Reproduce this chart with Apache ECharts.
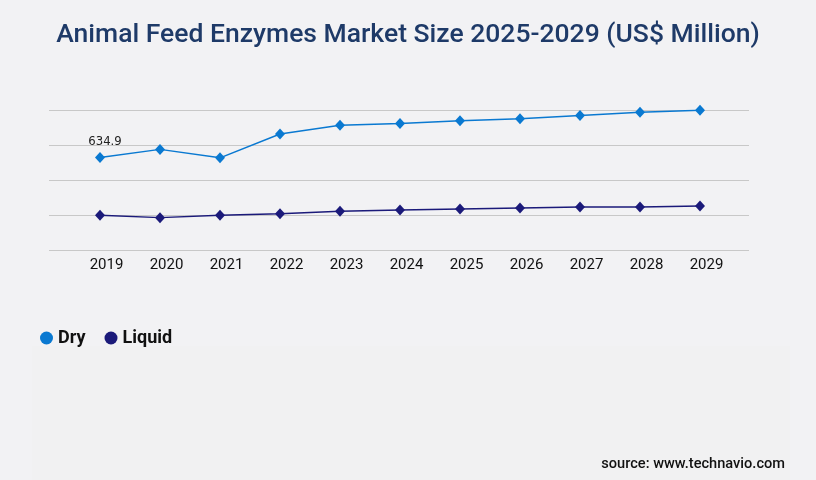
<!DOCTYPE html>
<html>
<head>
    <meta charset="utf-8">
    <title>Animal Feed Enzymes Market Size</title>
    <script src="https://cdn.jsdelivr.net/npm/echarts@6/dist/echarts.min.js"></script>
    <style>
        html, body { margin: 0; padding: 0; background: #f2f2f4; }
        #chart1 { width: 816px; height: 480px; }
    </style>
</head>
<body>
<div id="chart1"></div>
<script type="text/javascript">
    // 年份
    var years = ['2019', '2020', '2021', '2022', '2023', '2024', '2025', '2026', '2027', '2028', '2029'];
    // Dry (only 2019 is labelled)
    var dryValues = [634.9, 690, 632, 795, 855, 868, 887, 900, 923, 944, 958];
    // Liquid
    var liquidValues = [238, 222, 238, 249, 265, 274, 281, 288, 295, 295, 302];
    // only the first point carries a label
    var labelledIndex = 0;

    var dryColor = '#0a79d1';
    var liquidColor = '#1b1a7a';

    var myChart1 = echarts.init(document.getElementById('chart1'));

    var options = {
        backgroundColor: '#f2f2f4',
        animation: false,
        title: {
            text: 'Animal Feed Enzymes Market Size 2025-2029 (US$ Million)',
            left: 'center',
            top: 17,
            textStyle: {
                fontFamily: 'Roboto',
                fontSize: 26.5,
                fontWeight: 500,
                color: '#1e3a68'
            }
        },
        legend: {
            data: ['Dry', 'Liquid'],
            left: 35,
            top: 324,
            icon: 'circle',
            itemWidth: 13,
            itemHeight: 13,
            itemGap: 19,
            textStyle: {
                fontFamily: 'Roboto',
                fontSize: 18,
                fontWeight: 'bold',
                color: '#111'
            }
        },
        graphic: [
            {
                type: 'rect',
                z: -1,
                shape: { x: 32, y: 346, width: 758, height: 134 },
                style: { fill: '#f1f1f2' }
            },
            {
                type: 'text',
                right: 31,
                top: 457,
                style: {
                    text: 'source: www.technavio.com',
                    fontFamily: 'Roboto',
                    fontSize: 14.6,
                    fontWeight: 500,
                    fill: '#111'
                }
            }
        ],
        grid: [
            // gridlines only
            { left: 49, right: 67, top: 110, bottom: 230 },
            // data
            { left: 100, right: 116, top: 110, bottom: 230 }
        ],
        xAxis: [
            {
                gridIndex: 0,
                type: 'value',
                min: 0,
                max: 1,
                show: false
            },
            {
                gridIndex: 1,
                type: 'category',
                data: years,
                boundaryGap: false,
                axisLine: { show: false },
                axisTick: { show: false },
                axisLabel: {
                    fontFamily: 'Roboto',
                    fontSize: 15,
                    color: '#111',
                    margin: 8,
                    padding: [0, 0, 0, 13]
                }
            }
        ],
        yAxis: [
            {
                gridIndex: 0,
                type: 'value',
                min: 0,
                max: 960,
                interval: 240,
                axisLine: { show: false },
                axisTick: { show: false },
                axisLabel: { show: false },
                splitLine: { lineStyle: { color: '#c8c8c8', width: 1 } }
            },
            {
                gridIndex: 1,
                type: 'value',
                min: 0,
                max: 960,
                interval: 240,
                show: false,
                splitLine: { show: false }
            }
        ],
        series: [
            {
                name: 'Dry',
                type: 'line',
                xAxisIndex: 1,
                yAxisIndex: 1,
                data: dryValues,
                symbol: 'diamond',
                symbolSize: [10, 11],
                itemStyle: { color: dryColor },
                lineStyle: { color: dryColor, width: 1.5 },
                label: {
                    show: true,
                    position: 'top',
                    offset: [5, 0],
                    distance: 4,
                    fontFamily: 'DejaVu Sans Condensed, Roboto, sans-serif',
                    fontSize: 13,
                    color: '#222',
                    formatter: function (p) {
                        return p.dataIndex === labelledIndex ? p.value : '';
                    }
                }
            },
            {
                name: 'Liquid',
                type: 'line',
                xAxisIndex: 1,
                yAxisIndex: 1,
                data: liquidValues,
                symbol: 'diamond',
                symbolSize: [10, 11],
                itemStyle: { color: liquidColor },
                lineStyle: { color: liquidColor, width: 1.5 }
            }
        ]
    };
    myChart1.setOption(options);
</script>
</body>
</html>
